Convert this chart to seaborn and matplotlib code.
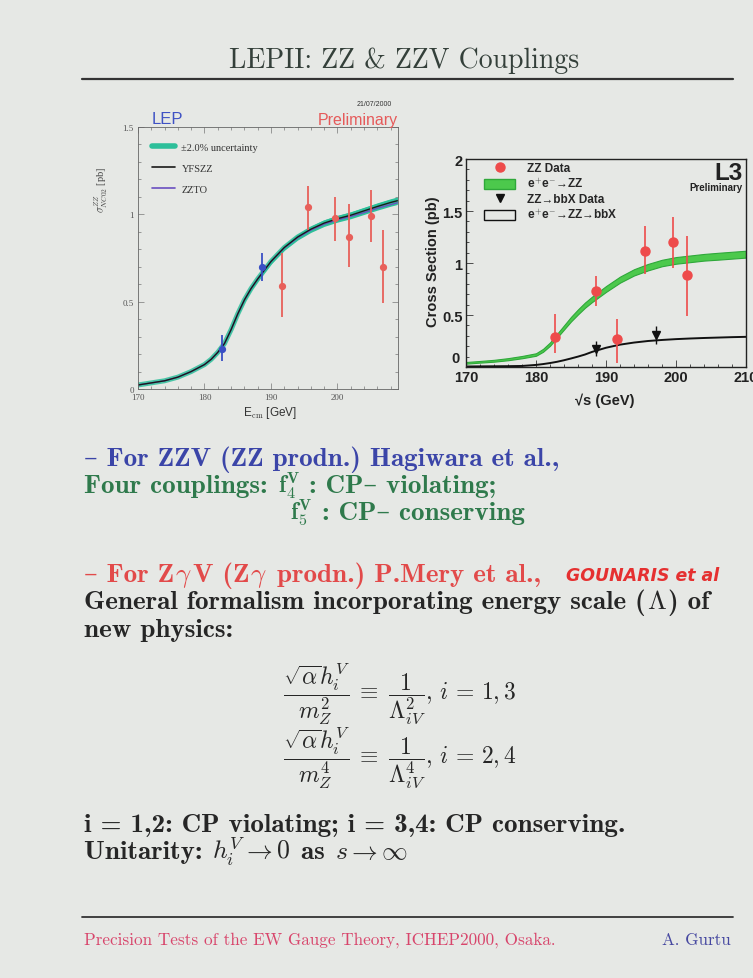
import numpy as np
import pandas as pd
import matplotlib
matplotlib.use("Agg")
import matplotlib.pyplot as plt
import seaborn as sns
from matplotlib.lines import Line2D
from matplotlib.patches import Patch

# ---------------- data: left panel (LEP combined ZZ cross section) ----------------
lep_curve_E = [170, 172, 174, 176, 178, 180, 181, 182, 183, 184, 185, 186, 187, 188,
               189, 190, 192, 194, 196, 198, 200, 202, 204, 206, 208, 209]
lep_yfszz = [0.023, 0.035, 0.047, 0.068, 0.10, 0.14, 0.17, 0.21, 0.26, 0.34, 0.43, 0.51,
             0.575, 0.63, 0.68, 0.73, 0.81, 0.87, 0.915, 0.95, 0.975, 0.995, 1.02, 1.045,
             1.068, 1.078]
lep_zzto = [0.023, 0.035, 0.047, 0.068, 0.10, 0.14, 0.17, 0.21, 0.26, 0.34, 0.43, 0.51,
            0.575, 0.63, 0.68, 0.73, 0.808, 0.866, 0.91, 0.944, 0.968, 0.988, 1.01, 1.035,
            1.056, 1.066]
lep_unc_pct = 2.0
lep_blue_E = [182.7, 188.6]
lep_blue_xs = [0.23, 0.70]
lep_blue_lo = [0.16, 0.62]
lep_blue_hi = [0.31, 0.78]
lep_red_E = [191.6, 195.5, 199.6, 201.8, 205.0, 206.8]
lep_red_xs = [0.59, 1.04, 0.98, 0.87, 0.99, 0.70]
lep_red_lo = [0.41, 0.91, 0.85, 0.70, 0.84, 0.49]
lep_red_hi = [0.78, 1.16, 1.10, 1.06, 1.14, 0.91]
lep_legend = ["\u00b12.0% uncertainty", "YFSZZ", "ZZTO"]

# ---------------- data: right panel (L3) ----------------
l3_curve_E = [170, 172, 174, 176, 178, 180, 181, 182, 183, 184, 185, 186, 187, 188, 189,
              190, 192, 194, 196, 198, 200, 202, 204, 206, 208, 210]
l3_zz = [0.04, 0.05, 0.06, 0.075, 0.095, 0.12, 0.16, 0.22, 0.30, 0.38, 0.46, 0.53, 0.595,
         0.65, 0.70, 0.75, 0.84, 0.91, 0.96, 1.00, 1.025, 1.04, 1.055, 1.065, 1.075, 1.085]
l3_zz_halfwidth = [0.008, 0.008, 0.009, 0.010, 0.011, 0.012, 0.014, 0.016, 0.018, 0.020,
                   0.022, 0.024, 0.025, 0.026, 0.027, 0.028, 0.029, 0.030, 0.031, 0.031,
                   0.032, 0.032, 0.032, 0.033, 0.033, 0.033]
l3_bbx = [0.005, 0.006, 0.007, 0.008, 0.010, 0.020, 0.028, 0.038, 0.050, 0.065, 0.082,
          0.10, 0.12, 0.145, 0.165, 0.185, 0.215, 0.235, 0.25, 0.26, 0.268, 0.274, 0.279,
          0.283, 0.287, 0.29]
l3_zz_E = [182.7, 188.6, 191.6, 195.5, 199.5, 201.6]
l3_zz_xs = [0.29, 0.73, 0.27, 1.115, 1.20, 0.88]
l3_zz_lo = [0.13, 0.59, 0.04, 0.89, 0.955, 0.49]
l3_zz_hi = [0.51, 0.875, 0.46, 1.36, 1.44, 1.26]
l3_bb_E = [188.6, 197.1]
l3_bb_xs = [0.176, 0.31]
l3_bb_lo = [0.105, 0.22]
l3_bb_hi = [0.25, 0.39]
l3_legend = ["ZZ Data", "e$^{+}$e$^{-}$\u2192ZZ", "ZZ\u2192bbX Data", "e$^{+}$e$^{-}$\u2192ZZ\u2192bbX"]
l3_xticklabels = ["170", "180", "190", "200", "210"]
l3_yticklabels = ["", "0.5", "1", "1.5", "2"]

# ---------------- slide text ----------------
title_text = "LEPII: ZZ & ZZV Couplings"
footer_left = "Precision Tests of the EW Gauge Theory, ICHEP2000, Osaka."
footer_right = "A. Gurtu"

# ---------------- style ----------------
sns.set_theme(style="ticks")
plt.rcParams["mathtext.fontset"] = "cm"
BG = "#e6e8e5"
W, H = 753, 979
fig = plt.figure(figsize=(W / 100, H / 100), dpi=100, facecolor=BG)
renderer = fig.canvas.get_renderer()


def P(x, y):
    return x / W, 1 - y / H


def ax_rect(l, t, r, b):
    return [l / W, 1 - b / H, (r - l) / W, (b - t) / H]


def seq(x, y, parts, **kw):
    """Place text pieces one after another on a common baseline (pixel coords).
    Each part is a string or a (string, fontsize) pair."""
    for part in parts:
        s, extra = (part, {}) if isinstance(part, str) else (part[0], {"fontsize": part[1]})
        opts = dict(kw)
        opts.update(extra)
        t = fig.text(*P(x, y), s, va="baseline", ha="left", **opts)
        x += t.get_window_extent(renderer=renderer).width + 1


CM = ["cmr10", "DejaVu Serif"]
CMB = ["cmb10", "DejaVu Serif"]
SANS = ["Liberation Sans", "DejaVu Sans"]
SERIF = ["Liberation Serif", "DejaVu Serif"]

# ---------------- title & rules ----------------
fig.text(*P(404, 61), title_text, family=CM, fontsize=20, color="#34403a",
         ha="center", va="center")
fig.add_artist(Line2D([82 / W, 733 / W], [1 - 80 / H, 1 - 80 / H], color="#333", lw=1.6))
fig.add_artist(Line2D([82 / W, 733 / W], [1 - 918 / H, 1 - 918 / H], color="#333", lw=1.3))

# ---------------- left panel ----------------
axL = fig.add_axes(ax_rect(138, 128, 398, 390))
axL.set_facecolor(BG)
E = np.array(lep_curve_E)
yf = np.array(lep_yfszz)
axL.fill_between(E, yf * (1 - lep_unc_pct / 100), yf * (1 + lep_unc_pct / 100),
                 color="#2dbf9a", lw=0)
sns.lineplot(x=lep_curve_E, y=lep_yfszz, ax=axL, color="#2dbf9a", lw=3.6, alpha=0.85)
sns.lineplot(x=lep_curve_E, y=lep_zzto, ax=axL, color="#6a4fc0", lw=1.0)
sns.lineplot(x=lep_curve_E, y=lep_yfszz, ax=axL, color="#1a1a1a", lw=1.0)
axL.errorbar(lep_red_E, lep_red_xs,
             yerr=[np.subtract(lep_red_xs, lep_red_lo), np.subtract(lep_red_hi, lep_red_xs)],
             fmt="o", color="#e8605a", ms=4.2, elinewidth=1.3, capsize=0)
axL.errorbar(lep_blue_E, lep_blue_xs,
             yerr=[np.subtract(lep_blue_xs, lep_blue_lo), np.subtract(lep_blue_hi, lep_blue_xs)],
             fmt="o", color="#3a4fc4", ms=4.2, elinewidth=1.3, capsize=0)
axL.set_xlim(170, 209.1)
axL.set_ylim(0, 1.5)
axL.set_xticks([170, 180, 190, 200])
axL.set_yticks([0, 0.5, 1, 1.5])
axL.set_xticklabels(["170", "180", "190", "200"])
axL.set_yticklabels(["0", "0.5", "1", "1.5"])
axL.set_xticks(np.arange(170, 210, 2), minor=True)
axL.set_yticks(np.arange(0, 1.5, 0.1), minor=True)
axL.tick_params(which="both", direction="in", top=True, right=True, color="#777",
                labelsize=6.5, labelcolor="#555", length=4, width=0.5, pad=3)
axL.tick_params(which="minor", length=2)
for lab in axL.get_xticklabels() + axL.get_yticklabels():
    lab.set_family(SERIF)
for s in axL.spines.values():
    s.set_color("#666")
    s.set_linewidth(0.6)
axL.set_xlabel("")
axL.set_ylabel("")
hL = [Line2D([], [], color="#2dbf9a", lw=4), Line2D([], [], color="#1a1a1a", lw=1.2),
      Line2D([], [], color="#6a4fc0", lw=1.2)]
legL = axL.legend(hL, lep_legend, loc="upper left", bbox_to_anchor=(0.055, 0.94),
                  frameon=False, prop={"family": SERIF, "size": 7.5}, handlelength=2.2,
                  handletextpad=0.6, labelspacing=1.1, borderpad=0, borderaxespad=0)
for t in legL.get_texts():
    t.set_color("#333")
fig.text(*P(101, 190), r"$\sigma^{ZZ}_{NC02}$ [pb]", family=SERIF, fontsize=7.5,
         rotation=90, ha="center", va="center", color="#444")
fig.text(*P(270, 413), r"E$_{\rm cm}$ [GeV]", family=SANS, fontsize=8.5,
         ha="center", va="center", color="#333")
fig.text(*P(152, 119), "LEP", family=SANS, fontsize=12, color="#3f52c4",
         ha="left", va="center")
fig.text(*P(398, 121), "Preliminary", family=SANS, fontsize=11.5, color="#e55a5a",
         ha="right", va="center")
fig.text(*P(374, 105), "21/07/2000", family=SANS, fontsize=5, color="#333",
         ha="center", va="center")

# ---------------- right panel ----------------
axR = fig.add_axes(ax_rect(466, 160, 746, 368))
axR.set_facecolor(BG)
E3 = np.array(l3_curve_E)
zz = np.array(l3_zz)
hw = np.array(l3_zz_halfwidth)
axR.fill_between(E3, zz - hw, zz + hw, color="#4cc94c", lw=0.8, edgecolor="#2fa83a")
sns.lineplot(x=l3_curve_E, y=l3_bbx, ax=axR, color="#111", lw=1.4)
axR.errorbar(l3_zz_E, l3_zz_xs,
             yerr=[np.subtract(l3_zz_xs, l3_zz_lo), np.subtract(l3_zz_hi, l3_zz_xs)],
             fmt="o", color="#ee4b4b", ms=6.5, elinewidth=1.2, capsize=0, zorder=5)
axR.errorbar(l3_bb_E, l3_bb_xs,
             yerr=[np.subtract(l3_bb_xs, l3_bb_lo), np.subtract(l3_bb_hi, l3_bb_xs)],
             fmt="v", color="#111", ms=5.5, elinewidth=1.0, capsize=0, zorder=5)
axR.set_xlim(170, 210)
axR.set_ylim(0, 2)
axR.set_xticks([170, 180, 190, 200, 210])
axR.set_yticks([0, 0.5, 1, 1.5, 2])
axR.set_xticklabels(l3_xticklabels)
axR.set_yticklabels(l3_yticklabels)
axR.set_xticks(np.arange(170, 211, 2), minor=True)
axR.set_yticks(np.arange(0, 2.01, 0.1), minor=True)
axR.tick_params(which="both", direction="in", top=False, right=False, color="#333",
                labelsize=10.5, labelcolor="#222", length=5, width=0.6, pad=2.5)
axR.tick_params(which="minor", length=2.5)
for lab in axR.get_xticklabels() + axR.get_yticklabels():
    lab.set_family(SANS)
    lab.set_fontweight("bold")
for s in axR.spines.values():
    s.set_color("#222")
    s.set_linewidth(1.0)
axR.set_xlabel("")
axR.set_ylabel("")
# zero label of the y axis sits raised, to the upper-left of "170" (as in the original)
fig.text(*P(455, 359), "0", family=SANS, fontsize=10.5, fontweight="bold",
         ha="center", va="center", color="#222")
hR = [Line2D([], [], marker="o", color="#ee4b4b", ls="none", ms=6.5),
      Patch(facecolor="#4cc94c", edgecolor="#2fa83a"),
      Line2D([], [], marker="v", color="#111", ls="none", ms=5.5),
      Patch(facecolor=BG, edgecolor="#111", lw=1.0)]
legR = axR.legend(hR, l3_legend, loc="upper left", bbox_to_anchor=(0.065, 0.985),
                  frameon=False, prop={"family": SANS, "size": 8.5, "weight": "bold"},
                  handlelength=2.6, handleheight=0.9, handletextpad=1.0, labelspacing=0.2,
                  borderpad=0, borderaxespad=0)
fig.text(*P(433, 262), "Cross Section (pb)", family=SANS, fontsize=10.5,
         fontweight="bold", rotation=90, ha="center", va="center", color="#222")
fig.text(*P(605, 401), "\u221as (GeV)", family=SANS, fontsize=10.5, fontweight="bold",
         ha="center", va="center", color="#222")
fig.text(*P(743, 173), "L3", family=SANS, fontsize=17.5, fontweight="bold",
         ha="right", va="center", color="#222")
fig.text(*P(743, 188), "Preliminary", family=SANS, fontsize=7, fontweight="bold",
         ha="right", va="center", color="#222")

# ---------------- body text ----------------
BLUE = "#3b45a8"
GREEN = "#2f7a4c"
RED = "#e24a4a"
BLACK = "#262626"
fs = 19.5
seq(84, 466, ["\u2013 For ZZV (ZZ prodn.) Hagiwara et al.,"], family=CMB, fontsize=fs,
    color=BLUE)
seq(84, 493, ["Four couplings: ", (r"$\mathbf{f}_\mathbf{4}^\mathbf{V}$", 16.5),
              " : CP\u2013 violating;"], family=CMB, fontsize=fs, color=GREEN)
seq(290, 520, [(r"$\mathbf{f}_\mathbf{5}^\mathbf{V}$", 16.5), " : CP\u2013 conserving"],
    family=CMB, fontsize=fs, color=GREEN)
seq(84, 582, ["\u2013 For Z", r"$\gamma$", "V (Z", r"$\gamma$", " prodn.) P.Mery et al.,"],
    family=CMB, fontsize=fs, color=RED)
fig.text(*P(566, 581), "GOUNARIS et al", family=["DejaVu Sans"], fontsize=12.5,
         fontweight="bold", style="italic", color="#e53030", va="baseline")
seq(84, 609, ["General formalism incorporating energy scale (", r"$\Lambda$", ") of"],
    family=CMB, fontsize=fs, color=BLACK)
seq(84, 637, ["new physics:"], family=CMB, fontsize=fs, color=BLACK)
fig.text(*P(283, 694),
         r"$\dfrac{\sqrt{\alpha}h_i^V}{m_Z^2} \;\equiv\; \dfrac{1}{\Lambda_{iV}^2},\, i \,=\, 1,3$",
         fontsize=17, color=BLACK, va="center")
fig.text(*P(283, 758),
         r"$\dfrac{\sqrt{\alpha}h_i^V}{m_Z^4} \;\equiv\; \dfrac{1}{\Lambda_{iV}^4},\, i \,=\, 2,4$",
         fontsize=17, color=BLACK, va="center")
seq(84, 832, ["i = 1,2: CP violating; i = 3,4: CP conserving."], family=CMB,
    fontsize=fs, color=BLACK)
seq(84, 859, ["Unitarity: ", (r"$h_i^V \rightarrow 0$", 18.5), " as ",
              (r"$s \rightarrow \infty$", 18.5)],
    family=CMB, fontsize=fs, color=BLACK)

# ---------------- footer ----------------
fig.text(*P(84, 940), footer_left, family=CM, fontsize=12.3, color="#d8466c", va="center")
fig.text(*P(731, 940), footer_right, family=CM, fontsize=12.3, color="#4648a0",
         ha="right", va="center")

fig.savefig("out.png", dpi=100, facecolor=BG)
